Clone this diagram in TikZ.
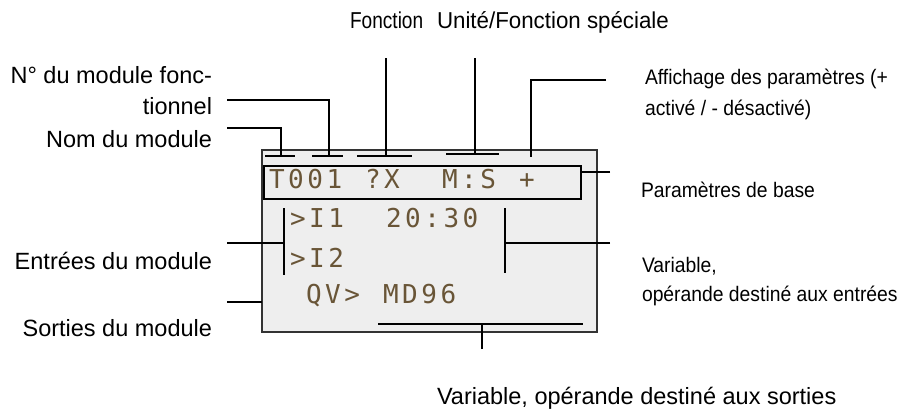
\documentclass[tikz,border=0pt]{standalone}
\usepackage{fontspec}
\setmainfont{Liberation Sans}
\newfontfamily\lcdfont[LetterSpace=13.6]{DejaVu Sans Mono}
\definecolor{lcdbg}{HTML}{EEEEEE}
\definecolor{lcdink}{RGB}{105,85,55}

\begin{document}
\begin{tikzpicture}[
  x=1pt, y=-1pt,
  every node/.style={inner sep=0pt, outer sep=0pt},
  leftlbl/.style={anchor=base east, align=right, font=\fontsize{23.5}{31}\selectfont},
  rightlbl/.style={anchor=base west, align=left, font=\fontsize{21}{30}\selectfont\addfontfeature{FakeStretch=0.92}},
  lcd/.style={anchor=base west, text=lcdink, font=\fontsize{26}{26}\selectfont\lcdfont},
  wire/.style={line width=1.4pt},
  bar/.style={line width=2pt}
]
  \useasboundingbox (0,0) rectangle (917,410);

  \node[draw=black!80, fill=lcdbg, line width=1.5pt, minimum width=335pt, minimum height=182pt] (disp) at (429.5,241) {};
  \node[draw, line width=2.2pt, minimum width=317pt, minimum height=33pt] (base) at (422.5,182.5) {};

  \node[lcd] (t1) at (269,188) {T001};
  \node[lcd] (t2) at (365,188) {?X};
  \node[lcd] (t3) at (442,188) {M:S};
  \node[lcd] (t4) at (519,188) {+};
  \node[lcd] (i1) at (290,227) {>I1};
  \node[lcd] (tm) at (386,227) {20:30};
  \node[lcd] (i2) at (290,267) {>I2};
  \node[lcd] (qv) at (306,303) {QV>};
  \node[lcd] (md) at (383,303) {MD96};

  \node[anchor=base west, font=\fontsize{23}{23}\selectfont\addfontfeature{FakeStretch=0.83}] (fct) at (350,28) {Fonction};
  \node[anchor=base west, font=\fontsize{23}{23}\selectfont\addfontfeature{FakeStretch=0.97}] (unit) at (437,28) {Unité/Fonction spéciale};
  \node[leftlbl] (nolbl) at (212,114) {N° du module fonc-\\tionnel};
  \node[leftlbl] (nomlbl) at (212,147) {Nom du module};
  \node[leftlbl] (entlbl) at (212,269) {Entrées du module};
  \node[leftlbl] (sorlbl) at (212,336) {Sorties du module};
  \node[rightlbl, font=\fontsize{21}{31}\selectfont\addfontfeature{FakeStretch=0.92}] (afflbl) at (645,115) {Affichage des paramètres (+\\activé / - désactivé)};
  \node[rightlbl] (parlbl) at (641,197) {Paramètres de base};
  \node[rightlbl, font=\fontsize{21}{29}\selectfont\addfontfeature{FakeStretch=0.92}] (varlbl) at (642,301) {Variable,\\opérande destiné aux entrées};
  \node[anchor=base west, font=\fontsize{23.5}{23.5}\selectfont] (outlbl) at (437,404) {Variable, opérande destiné aux sorties};

  \coordinate (nom) at (281,156);
  \coordinate (num) at (329,156);
  \coordinate (fn) at (386,156);
  \coordinate (un) at (475,154);
  \coordinate (aff) at (531,157);
  \draw[bar] (265,156) -- (295,156) (312,156) -- (343,156) (357,156) -- (412,156) (446,154) -- (499,154);

  \coordinate (nomend) at (227,128);
  \coordinate (numend) at (227,100);
  \coordinate (fnend) at (386,58);
  \coordinate (unend) at (475,58);
  \coordinate (affend) at (606,80);
  \draw[wire] (nomend) -| (nom) (numend) -| (num) (fnend) -- (fn) (unend) -- (un) (affend) -| (aff);

  \coordinate (parend) at (610,172);
  \draw[wire] (parend) -- (parend -| base.east);

  \coordinate (inA) at (284,208);
  \coordinate (inB) at (284,275);
  \coordinate (inend) at (227,243);
  \draw[bar] (inA) -- (inB);
  \draw[wire] (inend) -- (inend -| inA);

  \coordinate (varA) at (505,208);
  \coordinate (varB) at (505,273);
  \coordinate (varend) at (610,243);
  \draw[bar] (varA) -- (varB);
  \draw[wire] (varend) -- (varend -| varA);

  \coordinate (sorend) at (227,302);
  \draw[wire] (sorend) -- (sorend -| disp.west);

  \coordinate (outA) at (378,324);
  \coordinate (outB) at (583,324);
  \coordinate (outend) at (482,349);
  \draw[bar] (outA) -- (outB);
  \draw[wire] (outend) -- (outend |- outA);
\end{tikzpicture}
\end{document}
